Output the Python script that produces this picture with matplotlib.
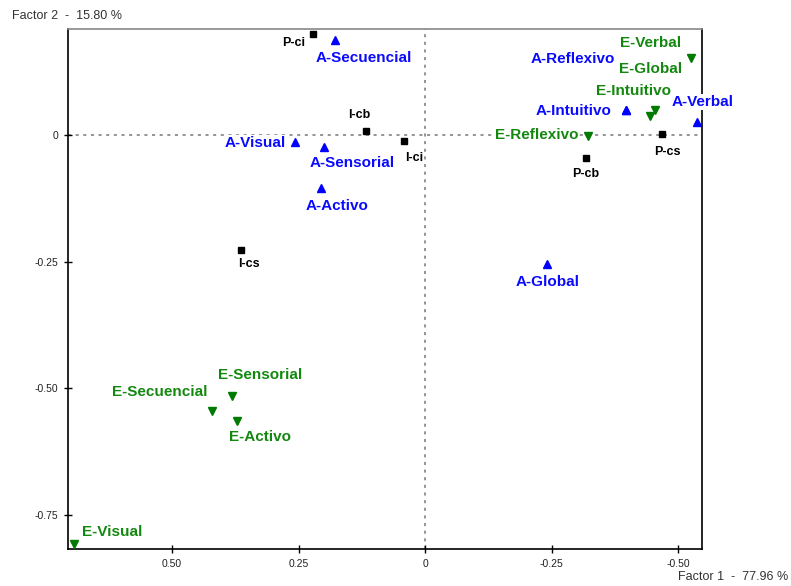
import matplotlib.pyplot as plt

plt.rcParams['font.family'] = ['Liberation Sans', 'DejaVu Sans']

# Perfiles (cuadrados negros)
p_labels = ["P-ci", "I-cb", "I-ci", "I-cs", "P-cs", "P-cb"]
p_x = [0.221, 0.117, 0.041, 0.364, -0.468, -0.318]
p_y = [0.199, 0.008, -0.012, -0.227, 0.001, -0.046]

# Estilos "A" (triangulos azules)
a_labels = ["A-Secuencial", "A-Visual", "A-Sensorial", "A-Activo", "A-Global",
            "A-Reflexivo", "A-Intuitivo", "A-Verbal"]
a_x = [0.178, 0.258, 0.200, 0.205, -0.240, -0.397, -0.397, -0.537]
a_y = [0.187, -0.013, -0.024, -0.105, -0.255, 0.049, 0.049, 0.026]

# Estilos "E" (triangulos verdes)
e_labels = ["E-Verbal", "E-Global", "E-Intuitivo", "E-Reflexivo", "E-Sensorial",
            "E-Secuencial", "E-Activo", "E-Visual"]
e_x = [-0.525, -0.445, -0.455, -0.321, 0.382, 0.422, 0.371, 0.693]
e_y = [0.152, 0.037, 0.049, -0.002, -0.516, -0.545, -0.564, -0.808]

xticks = [0.5, 0.25, 0, -0.25, -0.5]
xtick_labels = ["0.50", "0.25", "0", "-0.25", "-0.50"]
yticks = [0, -0.25, -0.5, -0.75]
ytick_labels = ["0", "-0.25", "-0.50", "-0.75"]

# desplazamiento de etiquetas en pixeles (dx, dy hacia arriba)
offsets = {
    "P-ci": (-20, -9), "I-cb": (-7, 16), "I-ci": (10, -17), "I-cs": (8, -14),
    "P-cs": (5, -18), "P-cb": (0, -16),
    "A-Secuencial": (29, -18), "A-Visual": (-39, -1), "A-Sensorial": (28, -16),
    "A-Activo": (16, -18), "A-Global": (1, -18), "A-Reflexivo": (-53, 51),
    "A-Intuitivo": (-53, -1), "A-Verbal": (6, 20),
    "E-Verbal": (-40, 15), "E-Global": (0, 47), "E-Intuitivo": (-22, 19),
    "E-Reflexivo": (-51, 1), "E-Sensorial": (28, 21), "E-Secuencial": (-52, 19),
    "E-Activo": (23, -16), "E-Visual": (38, 12),
}

BLUE = '#0a0aff'
GREEN = '#13880f'

fig = plt.figure(figsize=(7.91, 5.86), dpi=100)
ax = fig.add_axes([0.086, 0.0631, 0.8015, 0.8874])

ax.axhline(0, color='#777777', ls=(0, (2, 3)), lw=1.1, zorder=1)
ax.axvline(0, color='#777777', ls=(0, (2, 3)), lw=1.1, zorder=1)

ax.plot(p_x, p_y, 's', color='black', ms=5, ls='none', zorder=4, clip_on=False)
ax.plot(a_x, a_y, '^', color='#0000ff', ms=5.5, ls='none', zorder=4, clip_on=False)
ax.plot(e_x, e_y, 'v', color='#007a00', ms=5.5, ls='none', zorder=4, clip_on=False)


def etiquetar(labels, xs, ys, color, size):
    for lab, x, y in zip(labels, xs, ys):
        dx, dy = offsets[lab]
        ax.annotate(lab, (x, y), xytext=(dx * 0.72, dy * 0.72),
                    textcoords='offset points', ha='center', va='center',
                    fontsize=size, fontweight='bold', color=color, zorder=5,
                    bbox=dict(facecolor='white', edgecolor='none', pad=0.5))


etiquetar(p_labels, p_x, p_y, 'black', 9)
etiquetar(a_labels, a_x, a_y, BLUE, 11)
etiquetar(e_labels, e_x, e_y, GREEN, 11)

ax.set_xlim(0.7055, -0.547)
ax.set_ylim(-0.817, 0.209)
ax.set_xticks(xticks)
ax.set_xticklabels(xtick_labels)
ax.set_yticks(yticks)
ax.set_yticklabels(ytick_labels)
ax.tick_params(direction='inout', length=6, width=1, labelsize=7.5,
               labelcolor='#222222', pad=4)

ax.spines['top'].set_color('#888888')
for s in ['left', 'right', 'bottom']:
    ax.spines[s].set_color('black')
for s in ax.spines.values():
    s.set_linewidth(1.2)

fig.text(12 / 791, 1 - 16 / 586, "Factor 2  -  15.80 %", fontsize=9,
         color='#333333', ha='left', va='center')
fig.text(788 / 791, 1 - 577 / 586, "Factor 1  -  77.96 %", fontsize=9,
         color='#333333', ha='right', va='center')

fig.savefig('out.png', dpi=100)
